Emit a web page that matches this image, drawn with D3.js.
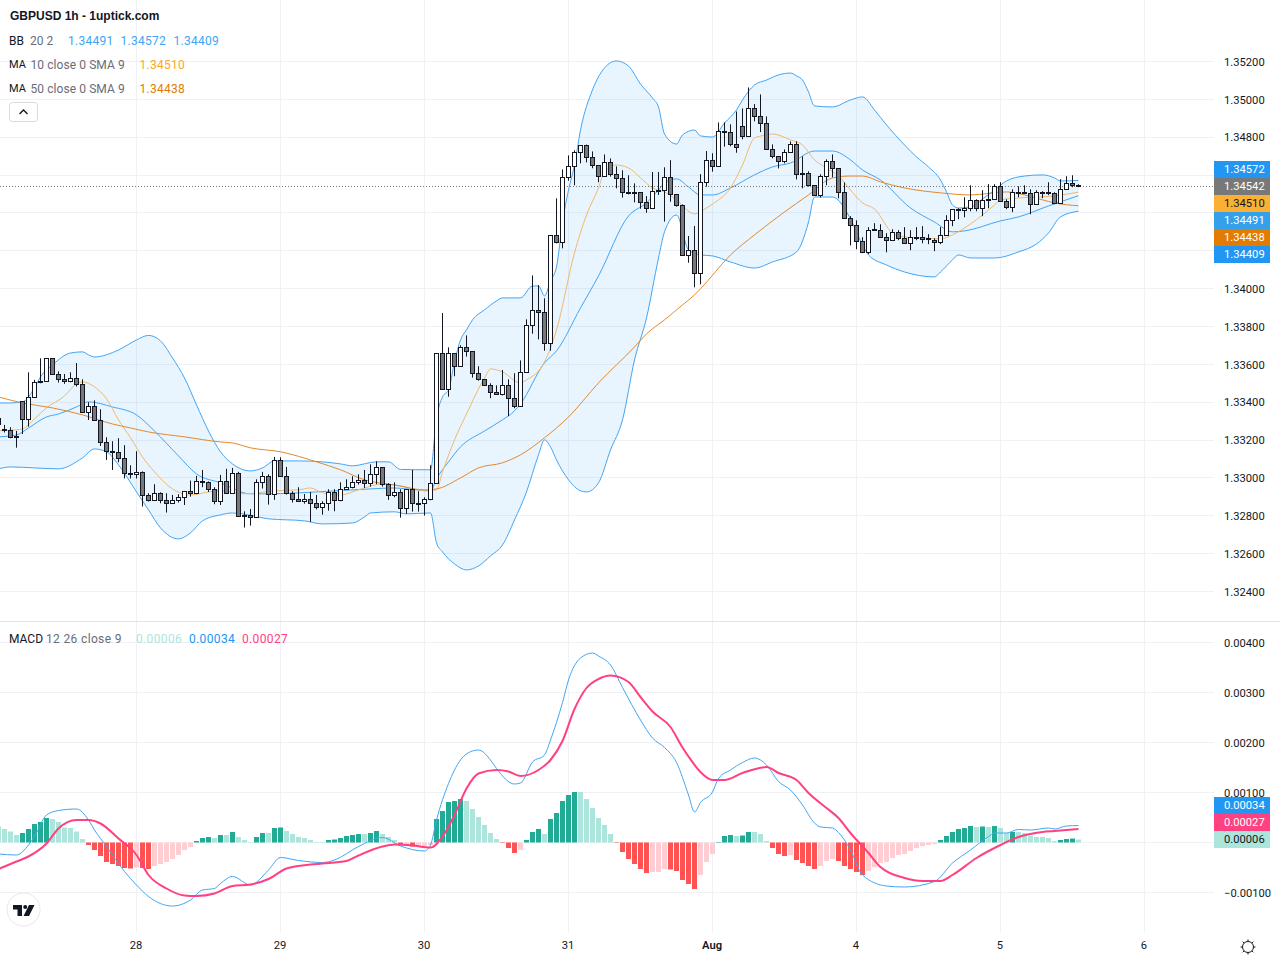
<!DOCTYPE html>
<html>
<head>
<meta charset="utf-8">
<script src="https://cdn.jsdelivr.net/npm/d3@7"></script>
<style>
html, body { margin: 0; padding: 0; background: #fff; }
svg { display: block; }
text { font-family: Roboto, sans-serif; font-size: 12px; fill: #131722; }
</style>
</head>
<body>
<svg id="chart" width="1280" height="960"></svg>
<script>
// hourly candles, first one sits just off the left edge (bar -1)
const opens = [1.33315,
1.33254,1.33252,1.33220,1.33405,1.33310,1.33426,1.33511,1.33511,1.33632,1.33548,
1.33521,1.33511,1.33527,1.33495,1.33347,1.33379,1.33305,1.33188,1.33141,1.33136,
1.33104,1.33025,1.33019,1.33030,1.32909,1.32882,1.32919,1.32882,1.32866,1.32882,
1.32898,1.32930,1.32919,1.32982,1.32977,1.32940,1.32878,1.32981,1.32919,1.33025,
1.32799,1.32799,1.32792,1.32977,1.33009,1.32914,1.33093,1.33009,1.32919,1.32887,
1.32877,1.32887,1.32866,1.32845,1.32866,1.32923,1.32882,1.32940,1.32951,1.32977,
1.32988,1.32972,1.33019,1.33056,1.32967,1.32908,1.32924,1.32840,1.32940,1.32866,
1.32866,1.32887,1.32972,1.33655,1.33465,1.33655,1.33590,1.33690,1.33669,1.33553,
1.33521,1.33489,1.33452,1.33442,1.33489,1.33421,1.33378,1.33558,1.33806,1.33885,
1.33875,1.33711,1.34282,1.34245,1.34588,1.34646,1.34720,1.34757,1.34694,1.34651,
1.34593,1.34667,1.34604,1.34583,1.34509,1.34509,1.34509,1.34456,1.34424,1.34519,
1.34519,1.34588,1.34498,1.34440,1.34176,1.34202,1.34081,1.34561,1.34678,1.34646,
1.34831,1.34826,1.34762,1.34857,1.34804,1.34952,1.34910,1.34873,1.34736,1.34699,
1.34672,1.34720,1.34762,1.34609,1.34609,1.34546,1.34493,1.34593,1.34672,1.34635,
1.34509,1.34372,1.34335,1.34251,1.34192,1.34310,1.34309,1.34272,1.34256,1.34298,
1.34266,1.34240,1.34272,1.34272,1.34263,1.34256,1.34245,1.34282,1.34361,1.34420,
1.34414,1.34425,1.34467,1.34425,1.34472,1.34472,1.34541,1.34462,1.34430,1.34509,
1.34509,1.34504,1.34446,1.34509,1.34506,1.34504,1.34451,1.34525,1.34557,1.34546];
const closes = [1.33280,
1.33248,1.33213,1.33215,1.33310,1.33426,1.33505,1.33504,1.33632,1.33548,1.33521,
1.33511,1.33527,1.33495,1.33347,1.33379,1.33305,1.33188,1.33141,1.33134,1.33104,
1.33025,1.33019,1.33030,1.32909,1.32882,1.32917,1.32882,1.32866,1.32882,1.32898,
1.32930,1.32919,1.32982,1.32977,1.32940,1.32877,1.32981,1.32919,1.33025,1.32798,
1.32794,1.32792,1.32977,1.33009,1.32914,1.33093,1.33009,1.32919,1.32887,1.32877,
1.32887,1.32866,1.32845,1.32866,1.32923,1.32882,1.32940,1.32951,1.32977,1.32988,
1.32972,1.33019,1.33056,1.32967,1.32908,1.32924,1.32840,1.32940,1.32866,1.32864,
1.32887,1.32972,1.33655,1.33465,1.33655,1.33590,1.33690,1.33669,1.33553,1.33521,
1.33489,1.33452,1.33442,1.33489,1.33421,1.33378,1.33558,1.33806,1.33885,1.33875,
1.33711,1.34282,1.34245,1.34588,1.34646,1.34720,1.34757,1.34694,1.34651,1.34593,
1.34667,1.34604,1.34583,1.34509,1.34503,1.34503,1.34456,1.34424,1.34514,1.34514,
1.34588,1.34498,1.34440,1.34176,1.34202,1.34081,1.34561,1.34678,1.34646,1.34831,
1.34826,1.34762,1.34746,1.34804,1.34952,1.34910,1.34873,1.34736,1.34699,1.34672,
1.34720,1.34762,1.34604,1.34604,1.34544,1.34493,1.34593,1.34672,1.34635,1.34509,
1.34371,1.34335,1.34251,1.34192,1.34309,1.34309,1.34272,1.34256,1.34298,1.34266,
1.34240,1.34272,1.34268,1.34261,1.34258,1.34245,1.34282,1.34361,1.34420,1.34414,
1.34425,1.34467,1.34425,1.34467,1.34467,1.34541,1.34462,1.34430,1.34509,1.34502,
1.34506,1.34446,1.34509,1.34504,1.34504,1.34451,1.34525,1.34557,1.34546,1.34542];
const highs = [1.33328,
1.33280,1.33268,1.33248,1.33405,1.33558,1.33518,1.33632,1.33632,1.33632,1.33563,
1.33549,1.33558,1.33607,1.33521,1.33400,1.33410,1.33363,1.33215,1.33194,1.33210,
1.33173,1.33067,1.33141,1.33035,1.32919,1.32967,1.32924,1.32919,1.32910,1.32914,
1.32930,1.32986,1.33011,1.33042,1.32982,1.32951,1.33016,1.33048,1.33053,1.33032,
1.32824,1.32836,1.32993,1.33032,1.33019,1.33111,1.33109,1.33058,1.32930,1.32951,
1.32915,1.32926,1.32910,1.32877,1.32940,1.32940,1.32977,1.32993,1.33009,1.33019,
1.33042,1.33072,1.33088,1.33056,1.32972,1.32977,1.32940,1.32940,1.33042,1.32930,
1.32898,1.33067,1.33658,1.33871,1.33690,1.33655,1.33701,1.33753,1.33669,1.33590,
1.33521,1.33500,1.33489,1.33570,1.33521,1.33553,1.33621,1.33838,1.34070,1.34019,
1.33949,1.34282,1.34477,1.34630,1.34704,1.34731,1.34757,1.34761,1.34725,1.34651,
1.34709,1.34688,1.34646,1.34625,1.34599,1.34556,1.34509,1.34489,1.34616,1.34616,
1.34641,1.34679,1.34498,1.34445,1.34278,1.34331,1.34605,1.34727,1.34715,1.34878,
1.34878,1.34868,1.34936,1.34952,1.35063,1.34975,1.35026,1.34910,1.34762,1.34699,
1.34736,1.34778,1.34778,1.34699,1.34620,1.34546,1.34604,1.34683,1.34709,1.34635,
1.34561,1.34383,1.34361,1.34272,1.34325,1.34346,1.34340,1.34293,1.34314,1.34309,
1.34325,1.34309,1.34325,1.34330,1.34288,1.34266,1.34325,1.34388,1.34420,1.34425,
1.34483,1.34546,1.34472,1.34520,1.34552,1.34552,1.34562,1.34472,1.34525,1.34541,
1.34546,1.34525,1.34520,1.34515,1.34562,1.34509,1.34578,1.34594,1.34599,1.34552];
const lows = [1.33250,
1.33240,1.33210,1.33160,1.33232,1.33271,1.33426,1.33500,1.33511,1.33548,1.33504,
1.33497,1.33505,1.33483,1.33347,1.33306,1.33305,1.33169,1.33095,1.33042,1.33083,
1.32997,1.32997,1.32997,1.32849,1.32875,1.32882,1.32866,1.32817,1.32863,1.32870,
1.32857,1.32901,1.32914,1.32951,1.32926,1.32861,1.32857,1.32919,1.32919,1.32798,
1.32738,1.32748,1.32792,1.32944,1.32859,1.32884,1.33009,1.32912,1.32870,1.32877,
1.32864,1.32768,1.32834,1.32806,1.32827,1.32824,1.32877,1.32937,1.32945,1.32965,
1.32947,1.32954,1.32967,1.32954,1.32884,1.32898,1.32790,1.32810,1.32822,1.32822,
1.32801,1.32882,1.32972,1.33465,1.33429,1.33537,1.33590,1.33641,1.33530,1.33514,
1.33489,1.33421,1.33438,1.33436,1.33327,1.33368,1.33378,1.33558,1.33762,1.33732,
1.33672,1.33672,1.34239,1.34213,1.34570,1.34546,1.34662,1.34667,1.34636,1.34562,
1.34593,1.34592,1.34530,1.34481,1.34498,1.34456,1.34422,1.34401,1.34424,1.34495,
1.34354,1.34459,1.34433,1.34176,1.34137,1.34007,1.34023,1.34539,1.34618,1.34646,
1.34750,1.34752,1.34718,1.34789,1.34804,1.34884,1.34827,1.34736,1.34688,1.34635,
1.34662,1.34720,1.34577,1.34530,1.34539,1.34493,1.34482,1.34546,1.34588,1.34477,
1.34371,1.34228,1.34208,1.34187,1.34182,1.34309,1.34272,1.34192,1.34256,1.34256,
1.34240,1.34203,1.34256,1.34240,1.34235,1.34198,1.34235,1.34282,1.34330,1.34367,
1.34377,1.34409,1.34409,1.34383,1.34425,1.34472,1.34462,1.34420,1.34404,1.34483,
1.34499,1.34393,1.34446,1.34478,1.34494,1.34446,1.34451,1.34525,1.34536,1.34536];

// indicators read at the bars where the line changes shape
const upperBars = [-1,1,3,5,6,8,11,13,14,15,19,22,24,26,28,30,32,34,36,38,41,43,45,49,53,56,58,62,64,66,71,72,73,74,75,76,77,78,80,82,83,86,88,89,90,91,92,93,94,95,96,98,100,102,104,106,108,109,110,112,113,115,116,118,120,122,123,125,127,129,131,132,133,134,135,138,141,143,145,147,150,152,154,156,157,158,159,161,163,165,167,170,173,175,176,179];
const upperVals = [1.33396,1.33396,1.33402,1.33476,1.33534,1.33597,1.33660,1.33666,1.33650,1.33639,1.33676,1.33729,1.33753,1.33724,1.33634,1.33528,1.33386,1.33248,1.33138,1.33074,1.33037,1.33053,1.33090,1.33090,1.33085,1.33074,1.33064,1.33085,1.33085,1.33045,1.33043,1.33317,1.33428,1.33465,1.33613,1.33729,1.33782,1.33835,1.33888,1.33935,1.33951,1.33951,1.34014,1.34014,1.33962,1.34041,1.34115,1.34352,1.34521,1.34653,1.34838,1.35050,1.35166,1.35203,1.35176,1.35081,1.35007,1.34960,1.34817,1.34764,1.34812,1.34838,1.34807,1.34801,1.34875,1.34944,1.34997,1.35076,1.35102,1.35129,1.35139,1.35124,1.35102,1.35039,1.34965,1.34960,1.34997,1.35013,1.34944,1.34865,1.34759,1.34696,1.34643,1.34574,1.34511,1.34442,1.34426,1.34432,1.34474,1.34521,1.34569,1.34595,1.34601,1.34585,1.34569,1.34572];

const basisBars = [-1,2,4,7,9,12,14,18,22,25,29,32,36,41,43,49,52,61,65,67,71,72,74,76,80,83,85,86,90,92,96,99,104,107,109,110,112,114,116,118,121,125,128,131,135,138,141,143,146,151,155,158,160,166,169,174,179];
const basisVals = [1.33217,1.33227,1.33264,1.33322,1.33338,1.33375,1.33402,1.33375,1.33333,1.33248,1.33116,1.33021,1.32974,1.32916,1.32916,1.32921,1.32926,1.32942,1.32947,1.32942,1.32932,1.32995,1.33085,1.33164,1.33248,1.33307,1.33354,1.33391,1.33608,1.33671,1.33898,1.34067,1.34384,1.34453,1.34521,1.34558,1.34580,1.34537,1.34495,1.34495,1.34532,1.34601,1.34643,1.34664,1.34727,1.34727,1.34680,1.34627,1.34574,1.34426,1.34352,1.34300,1.34305,1.34358,1.34379,1.34437,1.34491];

const lowerBars = [-1,1,5,9,13,15,17,19,22,24,26,29,31,33,36,38,44,50,53,58,60,61,65,67,71,72,73,75,77,79,81,83,85,87,89,90,91,92,94,96,97,99,101,103,105,107,109,110,112,114,116,118,121,125,128,132,134,135,138,141,143,144,147,150,155,156,158,159,161,165,169,172,174,176,179];
const lowerVals = [1.33048,1.33058,1.33053,1.33048,1.33106,1.33153,1.33138,1.33069,1.32926,1.32831,1.32736,1.32678,1.32710,1.32773,1.32805,1.32815,1.32784,1.32773,1.32757,1.32762,1.32794,1.32815,1.32821,1.32810,1.32815,1.32657,1.32609,1.32546,1.32514,1.32535,1.32588,1.32646,1.32778,1.32926,1.33122,1.33201,1.33164,1.33095,1.32990,1.32932,1.32926,1.32974,1.33148,1.33307,1.33623,1.33845,1.34162,1.34300,1.34389,1.34205,1.34178,1.34173,1.34141,1.34109,1.34141,1.34194,1.34352,1.34484,1.34484,1.34368,1.34231,1.34178,1.34125,1.34088,1.34062,1.34088,1.34152,1.34178,1.34162,1.34162,1.34194,1.34236,1.34294,1.34379,1.34409];

const ma10Bars = [-1,2,3,5,7,10,12,13,15,17,19,21,23,25,28,31,34,36,40,45,49,51,53,56,59,63,66,70,72,73,75,77,80,81,83,86,87,90,92,95,97,99,100,102,104,106,108,110,112,115,117,118,121,123,125,127,128,131,133,135,137,139,141,143,145,148,150,153,156,158,161,163,165,166,169,172,175,179];
const ma10Vals = [1.33249,1.33254,1.33259,1.33312,1.33370,1.33433,1.33497,1.33507,1.33481,1.33418,1.33307,1.33212,1.33111,1.33032,1.32942,1.32910,1.32926,1.32932,1.32916,1.32932,1.32937,1.32947,1.32921,1.32910,1.32937,1.32968,1.32958,1.32932,1.32937,1.33032,1.33201,1.33338,1.33528,1.33576,1.33560,1.33502,1.33518,1.33613,1.33782,1.34189,1.34389,1.34532,1.34617,1.34653,1.34638,1.34585,1.34532,1.34511,1.34469,1.34395,1.34426,1.34447,1.34532,1.34653,1.34796,1.34812,1.34817,1.34786,1.34759,1.34680,1.34638,1.34595,1.34521,1.34453,1.34421,1.34294,1.34273,1.34268,1.34263,1.34284,1.34342,1.34389,1.34442,1.34469,1.34479,1.34484,1.34490,1.34510];

const ma50Bars = [-1,3,8,13,18,21,24,30,36,38,41,46,52,56,60,65,70,72,76,79,83,86,90,94,99,105,107,110,113,115,116,121,125,130,134,138,141,143,146,150,156,161,167,170,173,175,179];
const ma50Vals = [1.33428,1.33396,1.33370,1.33333,1.33285,1.33264,1.33243,1.33217,1.33190,1.33185,1.33159,1.33138,1.33085,1.33043,1.32990,1.32963,1.32937,1.32942,1.33000,1.33053,1.33080,1.33122,1.33212,1.33322,1.33502,1.33692,1.33761,1.33835,1.33914,1.33967,1.33999,1.34178,1.34284,1.34405,1.34495,1.34585,1.34595,1.34595,1.34564,1.34532,1.34506,1.34495,1.34511,1.34495,1.34469,1.34453,1.34438];

// MACD pane, all values in units of 0.00001
const hist = [32,
27,22,15,19,27,37,41,49,47,41,
30,29,22,7,-5,-15,-27,-39,-43,-47,
-51,-52,-50,-51,-53,-47,-43,-39,-33,-25,
-15,-9,3,9,11,9,15,15,21,11,
5,1,11,19,19,29,30,23,17,11,
9,5,1,1,5,6,9,13,15,17,
17,19,23,17,11,5,-5,-5,-8,-8,
-7,-5,47,63,81,83,87,83,67,51,
35,19,7,-1,-11,-21,-15,5,21,27,
17,47,59,83,95,101,101,87,69,49,
35,17,-1,-19,-33,-43,-53,-61,-59,-59,
-53,-54,-57,-75,-83,-93,-65,-39,-23,1,
13,15,13,14,21,21,17,3,-11,-23,
-27,-25,-35,-41,-47,-53,-47,-37,-33,-37,
-47,-53,-59,-65,-57,-49,-41,-39,-31,-25,
-23,-17,-11,-7,-5,-3,5,13,21,27,
29,33,31,32,31,33,29,19,21,21,
19,13,11,11,9,3,5,7,8,6];

const macdBars = [-1,2,4,5,7,9,12,14,15,17,20,22,24,28,31,33,35,36,38,41,44,46,49,53,55,59,63,66,70,71,72,74,76,78,79,81,82,85,86,88,90,91,93,94,96,98,99,101,103,106,108,110,112,114,115,116,118,119,121,123,125,127,129,131,133,135,136,138,139,141,143,147,150,155,158,161,164,165,167,169,171,174,175,177,179];
const macdVals = [-23,-25,-5,12,55,64,67,45,25,-8,-58,-85,-108,-127,-115,-95,-92,-82,-68,-85,-55,-30,-36,-40,-35,-8,10,-7,-17,-5,45,118,165,183,185,165,148,117,119,161,175,205,280,325,369,379,373,355,310,245,209,190,160,95,61,80,101,128,145,160,169,155,122,105,75,39,31,29,20,-15,-65,-87,-89,-78,-41,-15,12,19,19,26,25,29,27,33,34];

const signalBars = [-1,2,4,7,9,12,14,16,19,22,24,27,30,32,35,38,41,44,47,51,53,57,59,63,65,68,71,73,75,77,79,82,84,86,89,91,93,95,97,99,101,104,106,108,111,113,114,116,118,120,123,127,129,132,134,137,139,141,144,146,150,153,156,158,162,166,169,173,175,179];
const signalVals = [-53,-38,-28,-2,28,45,45,38,8,-25,-65,-92,-106,-107,-102,-87,-84,-73,-52,-44,-42,-37,-26,-8,-4,-6,-10,12,55,108,138,145,142,133,145,165,203,267,309,327,334,321,291,262,231,190,172,141,125,125,139,151,139,125,99,69,49,19,-21,-49,-71,-77,-77,-65,-31,-5,11,21,23,27];

const priceTicks = [1.352,1.350,1.348,1.346,1.344,1.342,1.340,1.338,1.336,1.334,1.332,1.330,1.328,1.326,1.324];
const priceLabelTicks = [1.352,1.350,1.348,1.340,1.338,1.336,1.334,1.332,1.330,1.328,1.326,1.324];
const macdTicks = [400,300,200,100,0,-100];
const macdLabelTicks = [400,300,200,100,-100];
const dayBars = [22,46,70,94,118,142,166,190];
const dayLabels = ["28","29","30","31","Aug","4","5","6"];

const priceBadges = [["1.34572","#2196f3","#fff"],["1.34542","#787878","#fff"],["1.34510","#fbb034","#131722"],["1.34491","#35a0ea","#fff"],["1.34438","#e27b00","#fff"],["1.34409","#2196f3","#fff"]];
const macdBadges = [["0.00034","#2196f3","#fff"],["0.00027","#ff4081","#fff"],["0.00006","#ace5dc","#131722"]];
const lastClose = 1.34542;

const plotRight = 1214;
const svg = d3.select("#chart");

xScale = d3.scaleLinear().domain([0, 179]).range([4, 1078]);
yPrice = d3.scaleLinear().domain([1.324, 1.352]).range([591.5, 61.5]);
yMacd = d3.scaleLinear().domain([-100, 400]).range([892.5, 642.5]);

svg.append("clipPath").attr("id", "plot").append("rect")
    .attr("width", plotRight).attr("height", 960);

function snap(v) { return Math.round(v - 0.5) + 0.5; }

// vertical day lines and horizontal price lines, under everything
const gridX = d3.axisBottom(xScale).tickValues(dayBars).tickSize(932).tickFormat("").offset(0.5);
svg.append("g").attr("class", "grid").call(gridX);

function drawGrid(scale, ticks) {
    const axis = d3.axisRight(scale).tickValues(ticks).tickSize(plotRight).tickFormat("").offset(0);
    const g = svg.append("g").attr("class", "grid").call(axis);
    g.selectAll(".tick").attr("transform", d => "translate(0," + snap(scale(d)) + ")");
}
drawGrid(yPrice, priceTicks);
drawGrid(yMacd, macdTicks);
svg.selectAll(".grid .domain").remove();
svg.selectAll(".grid line").attr("stroke", "#f0f1f5");
svg.selectAll(".grid text").remove();

svg.append("line").attr("x1", 0).attr("x2", 1280).attr("y1", 621.5).attr("y2", 621.5)
    .attr("stroke", "#e0e3eb");

const plot = svg.append("g").attr("clip-path", "url(#plot)");

function pts(bars, vals) { return bars.map((b, i) => [b, vals[i]]); }
const priceLine = d3.line().x(d => xScale(d[0]) + 0.5).y(d => yPrice(d[1])).curve(d3.curveMonotoneX);
const macdLine = d3.line().x(d => xScale(d[0]) + 0.5).y(d => yMacd(d[1])).curve(d3.curveMonotoneX);

// bollinger fill between upper and lower
const upperPts = pts(upperBars, upperVals);
const lowerPts = pts(lowerBars, lowerVals);
plot.append("path")
    .attr("d", priceLine(upperPts) + "L" + priceLine(lowerPts.slice().reverse()).slice(1) + "Z")
    .attr("fill", "#2196f3").attr("fill-opacity", 0.1);

function addLine(g, gen, data, colour, w) {
    g.append("path").attr("d", gen(data)).attr("fill", "none")
        .attr("stroke", colour).attr("stroke-width", w);
}
addLine(plot, priceLine, upperPts, "#42a5f5", 1);
addLine(plot, priceLine, pts(basisBars, basisVals), "#42a5f5", 1);
addLine(plot, priceLine, lowerPts, "#42a5f5", 1);
addLine(plot, priceLine, pts(ma10Bars, ma10Vals), "#f2b96b", 1);
addLine(plot, priceLine, pts(ma50Bars, ma50Vals), "#e5892a", 1);

// last price dotted line
plot.append("line").attr("x1", 0).attr("x2", plotRight)
    .attr("y1", snap(yPrice(lastClose))).attr("y2", snap(yPrice(lastClose)))
    .attr("stroke", "#787878").attr("stroke-dasharray", "1,2");

// candles
const candles = plot.append("g").selectAll("g")
    .data(opens.map((o, i) => ({bar: i - 1, o: o, c: closes[i], h: highs[i], l: lows[i]})))
    .enter().append("g")
    .attr("transform", d => "translate(" + (xScale(d.bar) + 0.5) + ",0)");
candles.append("line")
    .attr("y1", d => yPrice(d.h)).attr("y2", d => yPrice(d.l))
    .attr("stroke", "#131722");
candles.append("rect")
    .attr("x", -2).attr("width", 4)
    .attr("y", d => snap(yPrice(Math.max(d.o, d.c))))
    .attr("height", d => Math.max(1, snap(yPrice(Math.min(d.o, d.c))) - snap(yPrice(Math.max(d.o, d.c)))))
    .attr("fill", d => d.c >= d.o ? "#fff" : "#787878")
    .attr("stroke", "#131722");

// macd histogram, colour follows the rise or fall against the previous bar
function histColour(h, prev) {
    if (h >= 0) return h > prev ? "#22ab94" : "#ace5dc";
    return h < prev ? "#ff5252" : "#ffcdd2";
}
plot.append("g").selectAll("rect").data(hist).enter().append("rect")
    .attr("x", (d, i) => xScale(i - 1) - 2)
    .attr("width", 5)
    .attr("y", d => Math.min(yMacd(d), yMacd(0)))
    .attr("height", d => Math.abs(yMacd(d) - yMacd(0)))
    .attr("fill", (d, i) => histColour(d, i > 0 ? hist[i - 1] : d + 1));

addLine(plot, macdLine, pts(macdBars, macdVals), "#42a5f5", 1);
addLine(plot, macdLine, pts(signalBars, signalVals), "#ff4081", 2);

// price and macd scale labels
function drawLabels(scale, ticks, fmt) {
    const axis = d3.axisRight(scale).tickValues(ticks).tickSize(0).tickPadding(0).tickFormat(fmt).offset(0);
    const g = svg.append("g").attr("transform", "translate(1224,0.6)").call(axis);
    g.select(".domain").remove();
    g.selectAll("text").style("font-size", "11.2px").style("font-family", "Roboto, sans-serif").style("fill", "#131722");
}
drawLabels(yPrice, priceLabelTicks, d => d.toFixed(5));
drawLabels(yMacd, macdLabelTicks, d => (d < 0 ? "\u2212" : "") + (Math.abs(d) / 1e5).toFixed(5));

// value badges on the scale
function drawBadges(list, top) {
    const g = svg.append("g").selectAll("g").data(list).enter().append("g")
        .attr("transform", (d, i) => "translate(1214," + (top + i * 17) + ")");
    g.append("rect").attr("width", 56).attr("height", 17).attr("fill", d => d[1]);
    g.append("text").attr("x", 10).attr("y", 8.5).attr("dy", "0.35em")
        .style("font-size", "11.2px")
        .style("fill", d => d[2]).text(d => d[0]);
}
drawBadges(priceBadges, 161);
drawBadges(macdBadges, 797);

// time axis
const timeAxis = d3.axisBottom(xScale).tickValues(dayBars).tickSize(0).tickPadding(0)
    .tickFormat((d, i) => dayLabels[i]).offset(0);
const tg = svg.append("g").attr("transform", "translate(0,941)").call(timeAxis);
tg.select(".domain").remove();
tg.selectAll("text").style("font-size", "11.2px").style("font-family", "Roboto, sans-serif")
    .style("fill", "#131722").style("font-weight", (d, i) => dayLabels[i] === "Aug" ? 600 : 400);

// legend
function legendText(x, y, txt, colour, spacing, size) {
    svg.append("text").attr("x", x).attr("y", y).attr("dy", "0.35em").style("fill", colour)
        .style("letter-spacing", (spacing || 0) + "px").style("font-size", (size || 12) + "px").text(txt);
}
svg.append("text").attr("x", 10).attr("y", 20)
    .style("font-family", "'Liberation Sans', sans-serif").style("font-weight", "bold")
    .text("GBPUSD 1h - 1uptick.com");
legendText(9, 40.5, "BB", "#131722");
legendText(30, 40.5, "20 2", "#6a6d78");
legendText(68, 40.5, "1.34491", "#42a5f5", 0.25);
legendText(120.5, 40.5, "1.34572", "#42a5f5", 0.25);
legendText(173.5, 40.5, "1.34409", "#42a5f5", 0.25);
legendText(9, 64.5, "MA", "#131722", 0, 11);
legendText(30.5, 64.5, "10 close 0 SMA 9", "#6a6d78", 0.08);
legendText(139.5, 64.5, "1.34510", "#f9a825", 0.25);
legendText(9, 88.5, "MA", "#131722", 0, 11);
legendText(30.5, 88.5, "50 close 0 SMA 9", "#6a6d78", 0.08);
legendText(139.5, 88.5, "1.34438", "#e27b00", 0.25);
legendText(9, 638.5, "MACD", "#131722");
legendText(46, 638.5, "12 26 close 9", "#6a6d78", 0.35);
legendText(136, 638.5, "0.00006", "#ace5dc", 0.35);
legendText(189, 638.5, "0.00034", "#2196f3", 0.35);
legendText(242, 638.5, "0.00027", "#ff4081", 0.35);

svg.append("rect").attr("x", 9.5).attr("y", 102.5).attr("width", 28).attr("height", 19).attr("rx", 3)
    .attr("fill", "#fff").attr("stroke", "#d8dade");
svg.append("path").attr("d", "M19.5,114 L23.5,110 L27.5,114").attr("fill", "none")
    .attr("stroke", "#131722").attr("stroke-width", 1.4);

// logo
svg.append("circle").attr("cx", 23.5).attr("cy", 909.5).attr("r", 16.5)
    .attr("fill", "#fff").attr("stroke", "#e8e8ea").attr("stroke-width", 1);
svg.append("path").attr("fill", "#131722")
    .attr("d", "M13,905 H22 V916 H17.5 V909.5 H13 Z M29,905 H34.5 L29,916 H23.5 Z");
svg.append("circle").attr("cx", 25.2).attr("cy", 907).attr("r", 2).attr("fill", "#131722");

// settings gear
const gear = svg.append("g").attr("transform", "translate(1248,947)");
gear.append("circle").attr("r", 5.5).attr("fill", "none").attr("stroke", "#131722");
d3.range(8).forEach(i => {
    const a = i * Math.PI / 4;
    gear.append("line")
        .attr("x1", Math.cos(a) * 5.5).attr("y1", Math.sin(a) * 5.5)
        .attr("x2", Math.cos(a) * 7.5).attr("y2", Math.sin(a) * 7.5)
        .attr("stroke", "#131722");
});
</script>
</body>
</html>
